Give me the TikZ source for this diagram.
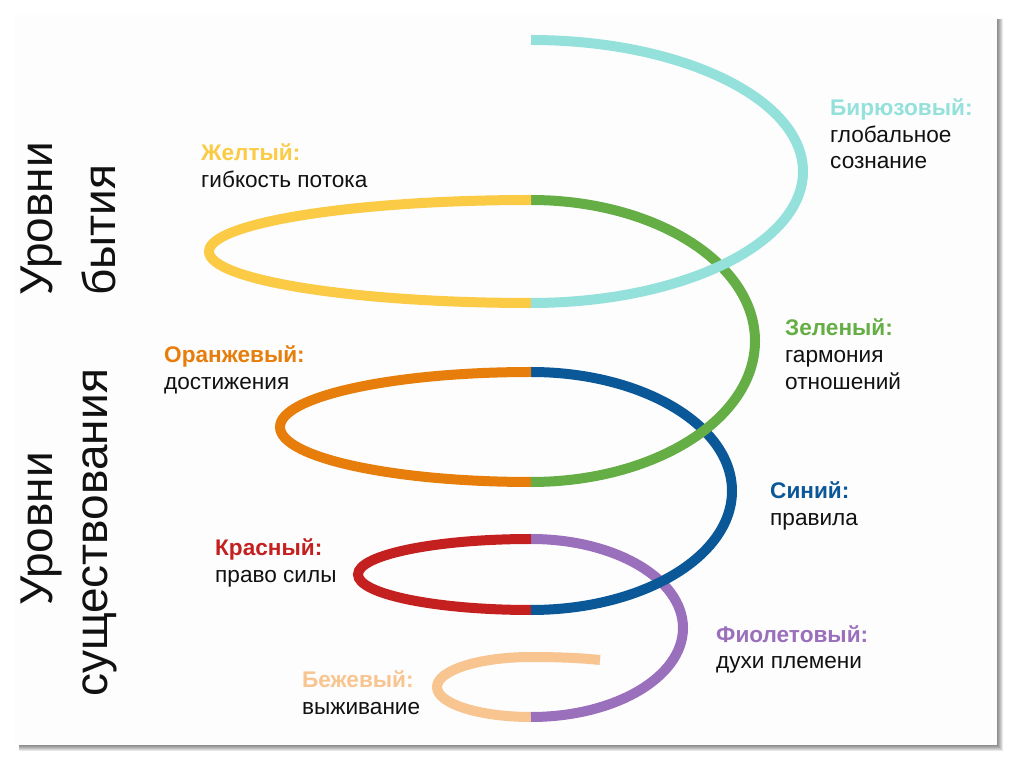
\documentclass[tikz,border=0pt]{standalone}
\usepackage{fontspec}
\setmainfont{Liberation Sans}
\definecolor{cq}{HTML}{94E1DC}
\definecolor{cy}{HTML}{FBCB46}
\definecolor{cg}{HTML}{65AE45}
\definecolor{co}{HTML}{E77E0B}
\definecolor{cb}{HTML}{0B5899}
\definecolor{cr}{HTML}{C4201F}
\definecolor{cp}{HTML}{9A6FBC}
\definecolor{cbe}{HTML}{F8C48F}
\definecolor{slide}{HTML}{FDFDFD}
\definecolor{txt}{HTML}{111111}
\newcommand{\spirlbl}[3]{\begin{tabular}[t]{@{}l@{}}\textbf{\color{#1}#2}\\#3\end{tabular}}
\begin{document}
\begin{tikzpicture}[x=1pt,y=1pt,
  seg/.style={line width=10pt, line cap=butt},
  lbl/.style={anchor=base west, inner sep=0pt, text=txt, font=\fontsize{22.6}{26.6}\selectfont},
  big/.style={rotate=90, inner sep=0pt, text=txt, font=\fontsize{46}{52}\selectfont}]
\useasboundingbox (0,0) rectangle (1020,766);
\fill[white] (0,0) rectangle (1020,766);
% slide with shadow
\foreach \d in {1,...,6}
  \fill[black,opacity=0.09] (19,{21-\d}) rectangle ({997+\d},747);
\fill[slide] (15,21) rectangle (997,751);
% junction points
\coordinate (q0) at (531,726);
\coordinate (q1) at (531,566);
\coordinate (q2) at (531,463);
\coordinate (q3) at (531,394);
\coordinate (q4) at (531,284);
\coordinate (q5) at (531,227);
\coordinate (q6) at (531,156);
\coordinate (q7) at (531,49);
\coordinate (bend) at (600,106);
% spiral, from the lowest turn up
\draw[seg,cbe] (q7) arc[start angle=270,end angle=90,x radius=94pt,y radius=30pt]
  .. controls (565,109) and (585,107.5) .. (bend);
\draw[seg,cp] (q5) arc[start angle=90,end angle=-90,x radius=152pt,y radius=89pt];
\draw[seg,cr] (q5) arc[start angle=90,end angle=270,x radius=173pt,y radius=35.5pt];
\draw[seg,cb] (q3) arc[start angle=90,end angle=-90,x radius=201pt,y radius=119pt];
\draw[seg,co] (q3) arc[start angle=90,end angle=270,x radius=251pt,y radius=55pt];
\draw[seg,cg] (q1) arc[start angle=90,end angle=-90,x radius=224pt,y radius=141pt];
\draw[seg,cy] (q1) arc[start angle=90,end angle=270,x radius=322pt,y radius=51.5pt];
\draw[seg,cq] (q0) arc[start angle=90,end angle=-90,x radius=272pt,y radius=131.5pt];
% labels
\node[lbl] (lq) at (830,650.5) {\spirlbl{cq}{Бирюзовый:}{глобальное\\сознание}};
\node[lbl] (ly) at (201,605) {\spirlbl{cy}{Желтый:}{гибкость потока}};
\node[lbl] (lg) at (785,430) {\spirlbl{cg}{Зеленый:}{гармония\\отношений}};
\node[lbl] (lo) at (164,403) {\spirlbl{co}{Оранжевый:}{достижения}};
\node[lbl] (lb) at (770,267) {\spirlbl{cb}{Синий:}{правила}};
\node[lbl] (lr) at (215,210) {\spirlbl{cr}{Красный:}{право силы}};
\node[lbl] (lp) at (716,124) {\spirlbl{cp}{Фиолетовый:}{духи племени}};
\node[lbl] (lbe) at (302,78) {\spirlbl{cbe}{Бежевый:}{выживание}};
% side headings
\node[big,anchor=base west] (h1) at (53,470) {Уровни};
\node[big,anchor=base west] (h2) at (115,470) {бытия};
\node[big,anchor=base] (h3) at (52,237) {Уровни};
\node[big,anchor=base] (h4) at (107,233) {существования};
\end{tikzpicture}
\end{document}
